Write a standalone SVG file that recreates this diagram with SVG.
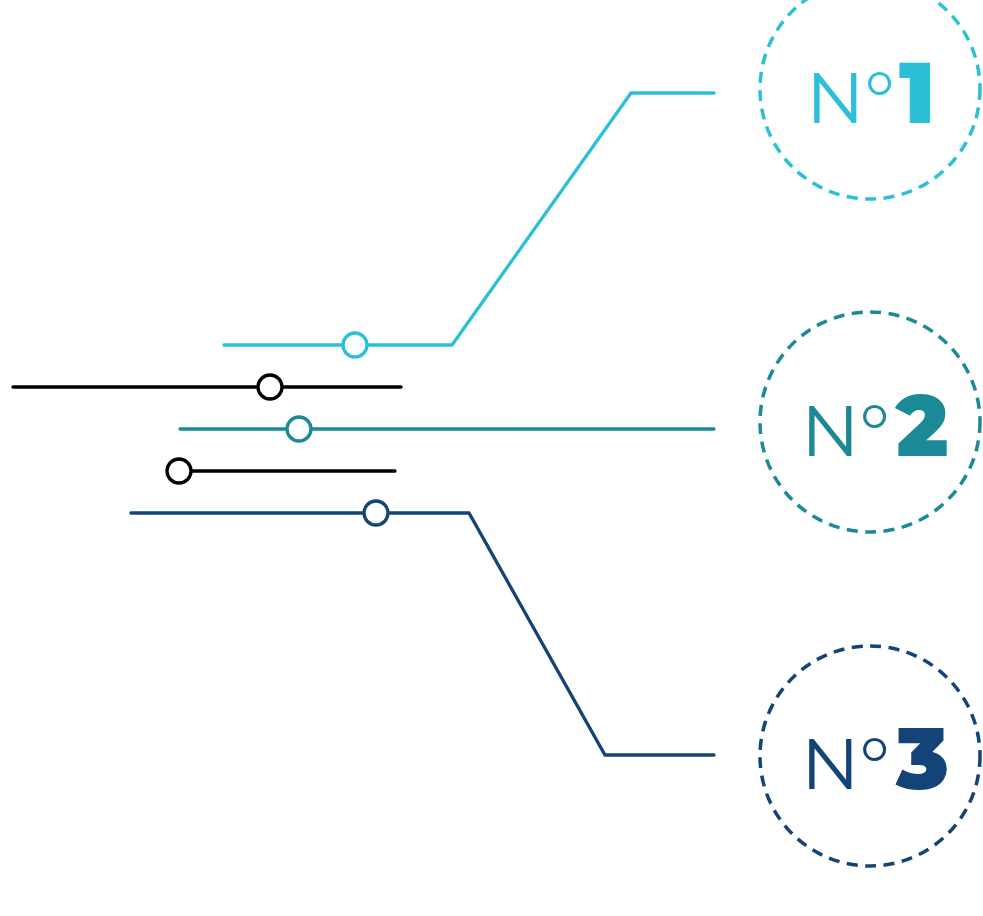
<svg xmlns="http://www.w3.org/2000/svg" width="983" height="916" viewBox="0 0 983 916">
<style>
.ln{fill:none;stroke-width:3.3;stroke-linecap:round;stroke-linejoin:miter}
.dot{fill:#fff;stroke-width:3.3}
.ring{fill:none;stroke-width:3.5;stroke-dasharray:11 7.5}
.n{font-family:"Montserrat","Inter","Liberation Sans",sans-serif;font-weight:400;font-size:72px}
.d{font-family:"Montserrat","Inter","Liberation Sans",sans-serif;font-weight:900;font-size:86px}
.c1{stroke:#2bc0d7}.c2{stroke:#1b8a96}.c3{stroke:#144477}.k{stroke:#000}
</style>
<g id="connectors">
<polyline class="ln c1" points="224,345 452,345 631,93 714,93"/>
<circle class="dot c1" cx="355" cy="345" r="12"/>
<line class="ln k" x1="13" y1="387" x2="401" y2="387"/>
<circle class="dot k" cx="270" cy="387" r="12"/>
<line class="ln c2" x1="180" y1="429" x2="714" y2="429"/>
<circle class="dot c2" cx="299" cy="429" r="12"/>
<line class="ln k" x1="179" y1="471" x2="395" y2="471"/>
<circle class="dot k" cx="179" cy="471" r="12"/>
<polyline class="ln c3" points="131,513 469,513 605,755 714,755"/>
<circle class="dot c3" cx="376" cy="513" r="12"/>
</g>
<g id="node1">
<circle class="ring c1" cx="870" cy="89" r="110"/>
<text class="n" x="806" y="123" fill="#2bc0d7">N°</text>
<text class="d" x="899" y="123" fill="#2bc0d7">1</text>
</g>
<g id="node2">
<circle class="ring c2" cx="870" cy="422" r="110"/>
<text class="n" x="801" y="456" fill="#1b8a96">N°</text>
<text class="d" x="896" y="456" fill="#1b8a96">2</text>
</g>
<g id="node3">
<circle class="ring c3" cx="870" cy="756" r="110"/>
<text class="n" x="801" y="789" fill="#144477">N°</text>
<text class="d" x="896" y="789" fill="#144477">3</text>
</g>
</svg>
